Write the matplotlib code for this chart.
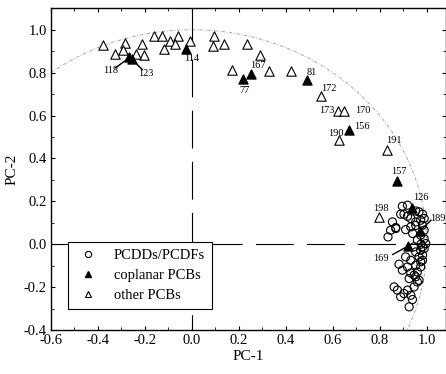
import numpy as np
import matplotlib.pyplot as plt
from matplotlib.lines import Line2D
from matplotlib.ticker import MultipleLocator

plt.rcParams['font.family'] = ['Liberation Serif', 'DejaVu Serif']
plt.rcParams['axes.unicode_minus'] = False

# PCDDs/PCDFs loadings (open circles)
pcdd_x = [0.896, 0.918, 0.953, 0.967, 0.982, 0.989, 0.974, 0.953, 0.932, 0.918,
          0.903, 0.889, 0.854, 0.868, 0.846, 0.835, 0.868, 0.910, 0.932, 0.953,
          0.982, 0.989, 0.974, 0.989, 0.996, 0.982, 0.946, 0.953, 0.974, 0.989,
          0.910, 0.932, 0.967, 0.982, 0.882, 0.918, 0.953, 0.974, 0.896, 0.932,
          0.960, 0.946, 0.925, 0.953, 0.967, 0.946, 0.918, 0.903, 0.932, 0.889,
          0.861, 0.875, 0.939, 0.925, 0.960, 0.974, 0.982, 0.975, 0.960, 0.940]
pcdd_y = [0.177, 0.182, 0.155, 0.151, 0.140, 0.120, 0.112, 0.104, 0.120, 0.130,
          0.140, 0.140, 0.104, 0.078, 0.065, 0.034, 0.073, 0.068, 0.081, 0.088,
          0.088, 0.065, 0.042, 0.026, 0.003, -0.012, -0.012, -0.036, -0.028, -0.020,
          -0.059, -0.075, -0.059, -0.051, -0.093, -0.106, -0.098, -0.082, -0.121, -0.134,
          -0.129, -0.144, -0.160, -0.152, -0.168, -0.199, -0.214, -0.230, -0.238, -0.245,
          -0.199, -0.214, -0.258, -0.292, -0.176, -0.106, -0.075, 0.000, 0.020, 0.050]

# coplanar PCBs (filled triangles)
cop_names = ['118', '123', '114', '77', '167', '81', '156', '157', '126', '189', '169']
cop_x = [-0.268, -0.255, -0.024, 0.216, 0.252, 0.491, 0.669, 0.872, 0.939, 0.971, 0.920]
cop_y = [0.873, 0.864, 0.911, 0.772, 0.795, 0.764, 0.534, 0.295, 0.169, 0.062, -0.009]

# other PCBs (open triangles)
oth_x = [-0.377, -0.284, -0.294, -0.327, -0.213, -0.203, -0.238, -0.160, -0.128, -0.095,
         -0.061, -0.070, -0.118, -0.007, 0.093, 0.088, 0.135, 0.235, 0.171, 0.289,
         0.327, 0.423, 0.551, 0.622, 0.647, 0.626, 0.829, 0.797]
oth_y = [0.927, 0.938, 0.907, 0.885, 0.932, 0.880, 0.888, 0.969, 0.969, 0.947,
         0.969, 0.935, 0.911, 0.947, 0.969, 0.924, 0.935, 0.935, 0.814, 0.880,
         0.810, 0.810, 0.689, 0.621, 0.621, 0.484, 0.441, 0.127]

# congener labels: text, label position
lab_text = ['118', '123', '114', '77', '167', '81', '172', '173', '170', '156',
            '190', '191', '157', '126', '198', '189', '169']
lab_x = [-0.348, -0.195, 0.000, 0.224, 0.280, 0.512, 0.582, 0.576, 0.726, 0.726,
         0.612, 0.861, 0.882, 0.977, 0.804, 1.046, 0.804]
lab_y = [0.810, 0.795, 0.865, 0.717, 0.834, 0.803, 0.725, 0.624, 0.624, 0.550,
         0.518, 0.484, 0.337, 0.220, 0.166, 0.121, -0.067]

fig = plt.figure(figsize=(4.46, 3.74), dpi=100)
ax = fig.add_axes([0.1143, 0.1176, 0.8847, 0.8602])

# unit circle
th = np.linspace(np.radians(127), np.radians(-25), 300)
ax.plot(np.cos(th), np.sin(th), color='#9a9a9a', lw=0.6, ls=(0, (4, 2, 1, 2)), zorder=1)

# zero lines
ax.plot([-0.6, 1.1], [0, 0], color='black', lw=0.8, dashes=(34, 12), zorder=1)
ax.plot([0, 0], [1.1, -0.4], color='black', lw=0.8, dashes=(34, 12), zorder=1)

ax.scatter(pcdd_x, pcdd_y, s=34, marker='o', facecolors='none', edgecolors='black',
           linewidths=0.8, zorder=3)
ax.scatter(oth_x, oth_y, s=46, marker='^', facecolors='white', edgecolors='black',
           linewidths=0.8, zorder=3)
ax.scatter(cop_x, cop_y, s=42, marker='^', color='black', zorder=4)

for t, x, y in zip(lab_text, lab_x, lab_y):
    ax.text(x, y, t, fontsize=7.5, ha='center', va='center', zorder=5, clip_on=False)

# leader lines
ax.plot([-0.325, -0.268], [0.823, 0.868], color='black', lw=1.0, zorder=4)
ax.plot([-0.212, -0.255], [0.815, 0.862], color='black', lw=1.0, zorder=4)
ax.plot([1.018, 0.975], [0.112, 0.066], color='black', lw=1.0, zorder=4, clip_on=False)
ax.plot([0.855, 0.918], [-0.048, -0.010], color='black', lw=1.0, zorder=4)

ax.set_xlim(-0.6, 1.08)
ax.set_ylim(-0.4, 1.1)
ax.xaxis.set_major_locator(MultipleLocator(0.2))
ax.xaxis.set_minor_locator(MultipleLocator(0.1))
ax.yaxis.set_major_locator(MultipleLocator(0.2))
ax.yaxis.set_minor_locator(MultipleLocator(0.1))
ax.xaxis.set_major_formatter(lambda v, p: '%.1f' % (0.0 if abs(v) < 1e-9 else v))
ax.yaxis.set_major_formatter(lambda v, p: '%.1f' % (0.0 if abs(v) < 1e-9 else v))
ax.tick_params(which='both', direction='in', top=True, right=True, labelsize=10.5)
ax.tick_params(which='major', length=3, width=0.8, pad=3)
ax.tick_params(which='minor', length=2, width=0.6)
for s in ax.spines.values():
    s.set_linewidth(1.0)

ax.set_xlabel('PC-1', fontsize=11, labelpad=2)
ax.set_ylabel('PC-2', fontsize=11, labelpad=4)

handles = [
    Line2D([], [], ls='none', marker='o', ms=4.5, mfc='none', mec='black', mew=0.8),
    Line2D([], [], ls='none', marker='^', ms=5, mfc='black', mec='black'),
    Line2D([], [], ls='none', marker='^', ms=5, mfc='white', mec='black', mew=0.8),
]
leg = ax.legend(handles, ['PCDDs/PCDFs', 'coplanar PCBs', 'other PCBs'],
                loc='upper left', bbox_to_anchor=(0.044, 0.274), borderaxespad=0,
                fancybox=False, frameon=True, edgecolor='black', framealpha=1,
                fontsize=10.5, handlelength=1.7, handletextpad=0.9,
                labelspacing=0.45, borderpad=0.5)
leg.get_frame().set_linewidth(0.8)
leg.set_zorder(6)

fig.savefig('out.png', dpi=100)
